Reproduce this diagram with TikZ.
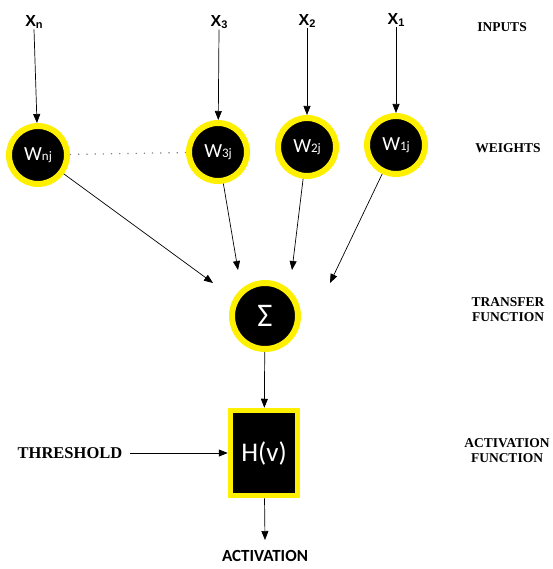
\documentclass[tikz,border=0pt]{standalone}
\usepackage{fontspec}
\setmainfont{Liberation Serif}
\newfontfamily\calib{Carlito}
\newfontfamily\arialf{Liberation Sans}
\usetikzlibrary{arrows.meta}
\definecolor{ringyellow}{HTML}{FFF000}
\tikzset{
  arr/.style={-{Triangle[length=9pt,width=7pt]}, line width=0.7pt, black},
  wnode/.style={circle, fill=black, draw=ringyellow, line width=6pt, minimum size=58pt, inner sep=0pt, text=white, font=\calib\fontsize{20}{20}\selectfont},
  sumnode/.style={circle, fill=black, draw=ringyellow, line width=6pt, minimum size=66pt, inner sep=0pt, text=white, font=\calib\fontsize{33}{33}\selectfont},
  boxnode/.style={rectangle, fill=black, draw=ringyellow, line width=5.5pt, minimum width=67pt, minimum height=85pt, inner sep=0pt, text=white, font=\calib\fontsize{27}{27}\selectfont},
  xlabel/.style={font=\arialf\bfseries\fontsize{16}{16}\selectfont, inner sep=1pt},
  sidelabel/.style={font=\bfseries\fontsize{13.5}{15}\selectfont, align=center, inner sep=0pt},
}
\newcommand{\wsub}[1]{{\fontsize{13}{13}\selectfont #1}}
\newcommand{\xsub}[1]{\raisebox{-1.5pt}{\fontsize{11}{11}\selectfont #1}}
\begin{document}
\begin{tikzpicture}[x=1pt,y=-1pt]
\useasboundingbox (0,0) rectangle (552,569);
% inputs
\node[xlabel] (xn) at (34,22) {X\xsub{n}};
\node[xlabel] (x3) at (219,22) {X\xsub{3}};
\node[xlabel] (x2) at (307,21) {X\xsub{2}};
\node[xlabel] (x1) at (396,20) {X\xsub{1}};
% weights
\node[wnode] (wn) at (38,155) {W\wsub{nj}};
\node[wnode] (w3) at (218,152) {W\wsub{3j}};
\node[wnode] (w2) at (307,147) {W\wsub{2j}};
\node[wnode] (w1) at (396,145) {W\wsub{1j}};
% sum and activation
\node[sumnode] (sum) at (265,316) {Σ};
\node[boxnode] (box) at (264,453) {H(v)};
% side labels
\node[sidelabel] (lin) at (502,27) {INPUTS};
\node[sidelabel] (lw) at (508,148) {WEIGHTS};
\node[sidelabel] (lt) at (508,310) {TRANSFER\\FUNCTION};
\node[sidelabel] (la) at (507,451) {ACTIVATION\\FUNCTION};
\node[font=\bfseries\fontsize{16.5}{16.5}\selectfont, inner sep=0pt] (thr) at (70,453) {THRESHOLD};
\node[font=\calib\bfseries\fontsize{17}{17}\selectfont, inner sep=0pt] (act) at (265,556) {ACTIVATION};
% free ends
\coordinate (tn) at (213,283);
\coordinate (t3) at (238,270);
\coordinate (t2) at (292,270);
\coordinate (t1) at (330,283);
\coordinate (tact) at (265,540);
% connectors
\draw[arr] (xn.south) -- (wn);
\draw[arr] (x3.south) -- (w3);
\draw[arr] (x2.south) -- (w2);
\draw[arr] (x1.south) -- (w1);
\draw[gray, line width=1.2pt, dash pattern=on 1.2pt off 7pt] (wn) -- (w3);
\draw[arr] (wn) -- (tn);
\draw[arr] (w3) -- (t3);
\draw[arr] (w2) -- (t2);
\draw[arr] (w1) -- (t1);
\draw[arr] (sum) -- (box);
\draw[arr] (thr.east) ++(8,0) coordinate (thrs) -- (box.west);
\draw[arr] (box) -- (tact);
\end{tikzpicture}
\end{document}
